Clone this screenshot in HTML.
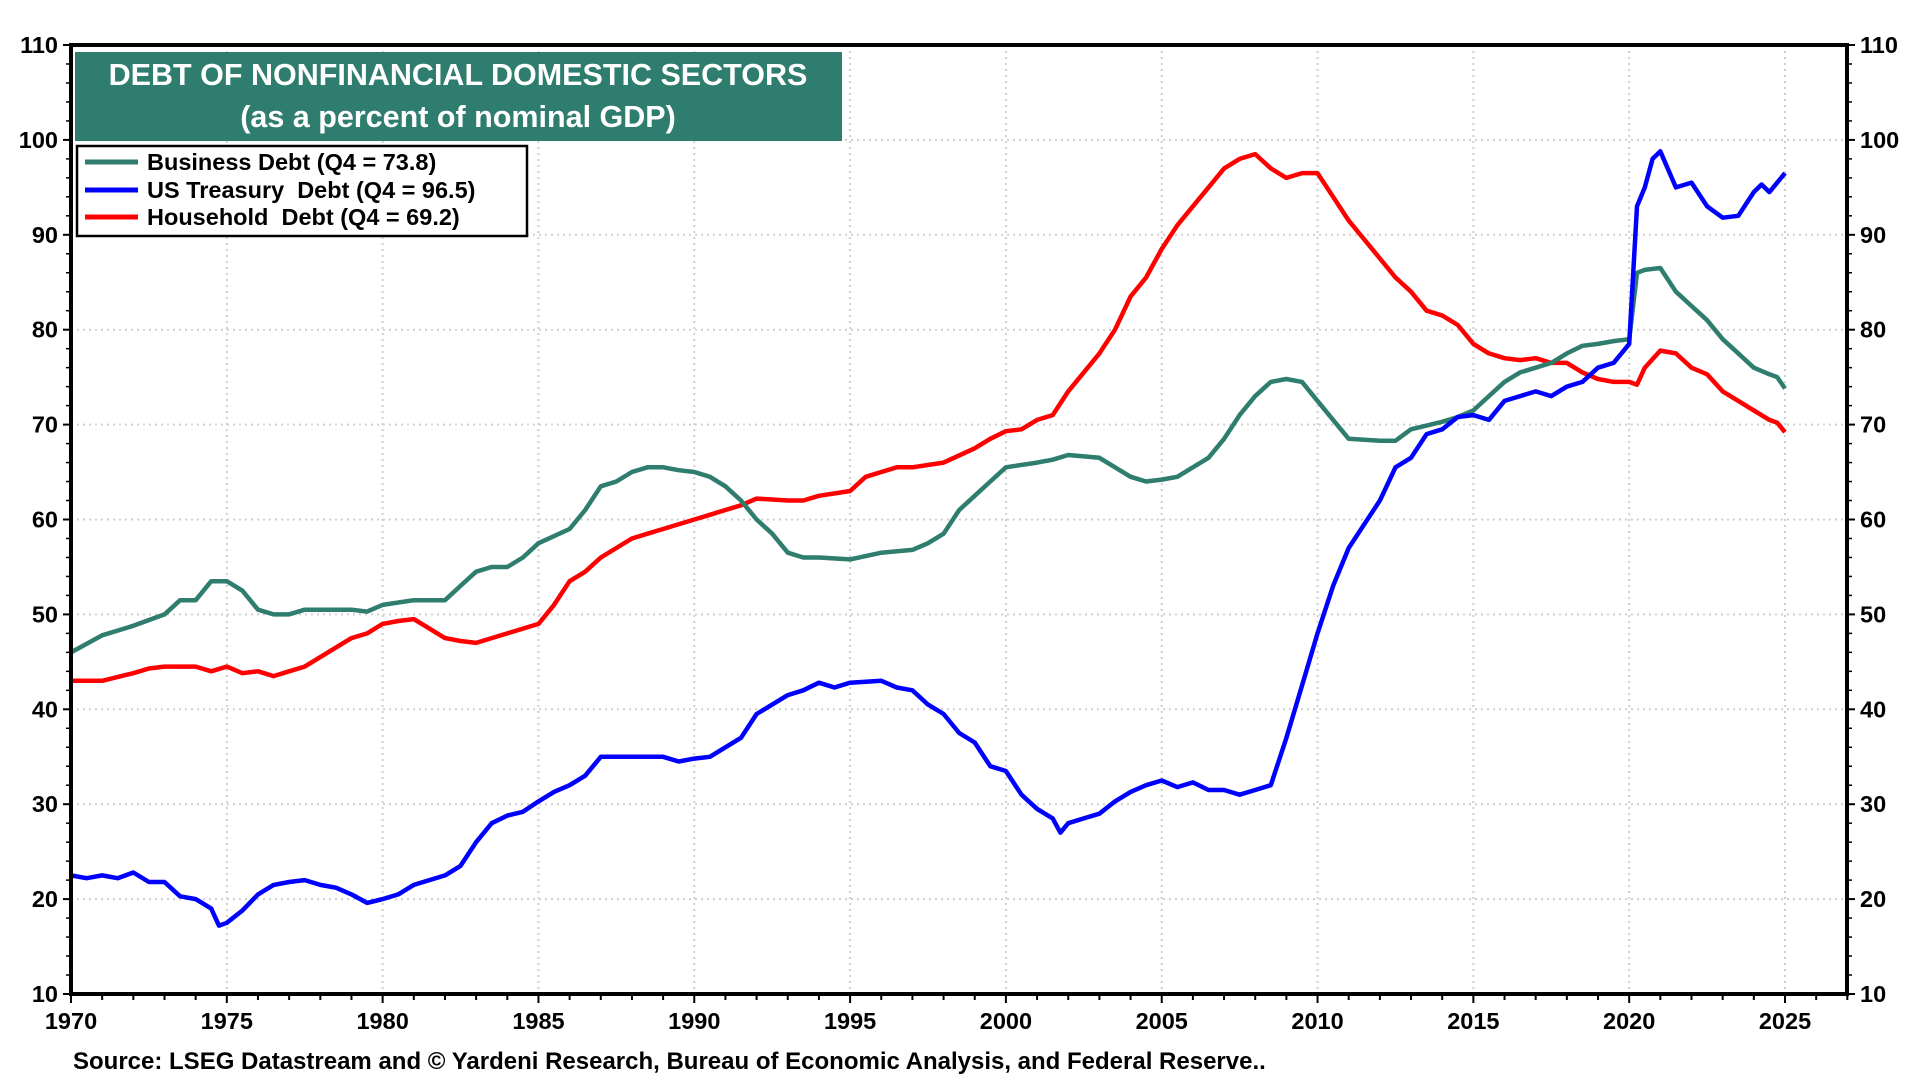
<!DOCTYPE html>
<html><head><meta charset="utf-8">
<style>
html,body{margin:0;padding:0;background:#fff;}
svg{display:block;font-family:"Liberation Sans",Arial,sans-serif;font-weight:bold;}
</style></head>
<body>
<svg id="chart" width="1920" height="1080" viewBox="0 0 1920 1080" xmlns="http://www.w3.org/2000/svg">
<g id="grid"></g>
<g id="series"></g>
<g id="axes"></g>
<g>
<rect x="75" y="52" width="767" height="89" fill="#2e7d6e"/>
<text x="458" y="85" text-anchor="middle" font-size="30.5" fill="#fff">DEBT OF NONFINANCIAL DOMESTIC SECTORS</text>
<text x="458" y="127" text-anchor="middle" font-size="30.5" fill="#fff">(as a percent of nominal GDP)</text>
</g>
<g>
<rect x="77" y="146" width="450" height="90" fill="#fff" stroke="#000" stroke-width="2.5"/>
<g><line x1="85" y1="162" x2="138" y2="162" stroke="#2e7d6e" stroke-width="5"/><text x="147" y="170" font-size="23.5">Business Debt (Q4 = 73.8)</text></g>
<g><line x1="85" y1="190" x2="138" y2="190" stroke="#0000ff" stroke-width="5"/><text x="147" y="198" font-size="23.5" xml:space="preserve">US Treasury  Debt (Q4 = 96.5)</text></g>
<g><line x1="85" y1="217" x2="138" y2="217" stroke="#ff0000" stroke-width="5"/><text x="147" y="225" font-size="23.5" xml:space="preserve">Household  Debt (Q4 = 69.2)</text></g>
</g>
<text x="73" y="1069" font-size="24">Source: LSEG Datastream and © Yardeni Research, Bureau of Economic Analysis, and Federal Reserve..</text>
</svg>
<script>
const yTicks=[10,20,30,40,50,60,70,80,90,100,110];
const xTicks=[1970,1975,1980,1985,1990,1995,2000,2005,2010,2015,2020,2025];
const bizYears=[1970,1971,1972,1973,1973.5,1974,1974.5,1975,1975.5,1976,1976.5,1977,1977.5,1978,1979,1979.5,1980,1981,1982,1982.5,1983,1983.5,1984,1984.5,1985,1986,1986.5,1987,1987.5,1988,1988.5,1989,1989.5,1990,1990.5,1991,1991.5,1992,1992.5,1993,1993.5,1994,1995,1996,1997,1997.5,1998,1998.5,1999,1999.5,2000,2001,2001.5,2002,2003,2003.5,2004,2004.5,2005,2005.5,2006,2006.5,2007,2007.5,2008,2008.5,2009,2009.5,2010,2010.5,2011,2012,2012.5,2013,2014,2014.5,2015,2015.5,2016,2016.5,2017,2017.5,2018,2018.5,2019,2019.5,2020,2020.25,2020.5,2021,2021.5,2022,2022.5,2023,2023.5,2024,2024.5,2024.75,2025];
const bizVals=[46,47.8,48.8,50,51.5,51.5,53.5,53.5,52.5,50.5,50,50,50.5,50.5,50.5,50.3,51,51.5,51.5,53,54.5,55,55,56,57.5,59,61,63.5,64,65,65.5,65.5,65.2,65,64.5,63.5,62,60,58.5,56.5,56,56,55.8,56.5,56.8,57.5,58.5,61,62.5,64,65.5,66,66.3,66.8,66.5,65.5,64.5,64,64.2,64.5,65.5,66.5,68.5,71,73,74.5,74.8,74.5,72.5,70.5,68.5,68.3,68.3,69.5,70.3,70.8,71.5,73,74.5,75.5,76,76.5,77.5,78.3,78.5,78.8,79,86,86.3,86.5,84,82.5,81,79,77.5,76,75.3,75,73.8];
const hhYears=[1970,1971,1972,1972.5,1973,1974,1974.5,1975,1975.5,1976,1976.5,1977,1977.5,1978,1978.5,1979,1979.5,1980,1980.5,1981,1981.5,1982,1982.5,1983,1983.5,1984,1985,1985.5,1986,1986.5,1987,1987.5,1988,1988.5,1989,1990,1990.5,1991,1991.5,1992,1993,1993.5,1994,1995,1995.5,1996,1996.5,1997,1998,1999,1999.5,2000,2000.5,2001,2001.5,2002,2002.5,2003,2003.5,2004,2004.5,2005,2005.5,2006,2006.5,2007,2007.5,2008,2008.5,2009,2009.5,2010,2010.5,2011,2011.5,2012,2012.5,2013,2013.5,2014,2014.5,2015,2015.5,2016,2016.5,2017,2017.5,2018,2018.5,2019,2019.5,2020,2020.25,2020.5,2021,2021.5,2022,2022.5,2023,2023.5,2024,2024.5,2024.75,2025];
const hhVals=[43,43,43.8,44.3,44.5,44.5,44,44.5,43.8,44,43.5,44,44.5,45.5,46.5,47.5,48,49,49.3,49.5,48.5,47.5,47.2,47,47.5,48,49,51,53.5,54.5,56,57,58,58.5,59,60,60.5,61,61.5,62.2,62,62,62.5,63,64.5,65,65.5,65.5,66,67.5,68.5,69.3,69.5,70.5,71,73.5,75.5,77.5,80,83.5,85.5,88.5,91,93,95,97,98,98.5,97,96,96.5,96.5,94,91.5,89.5,87.5,85.5,84,82,81.5,80.5,78.5,77.5,77,76.8,77,76.5,76.5,75.5,74.8,74.5,74.5,74.2,76,77.8,77.5,76,75.3,73.5,72.5,71.5,70.5,70.2,69.2];
const tsyYears=[1970,1970.5,1971,1971.5,1972,1972.5,1973,1973.5,1974,1974.5,1974.75,1975,1975.5,1976,1976.5,1977,1977.5,1978,1978.5,1979,1979.5,1980,1980.5,1981,1981.5,1982,1982.5,1983,1983.5,1984,1984.5,1985,1985.5,1986,1986.5,1987,1988,1989,1989.5,1990,1990.5,1991,1991.5,1992,1992.5,1993,1993.5,1994,1994.5,1995,1996,1996.5,1997,1997.5,1998,1998.5,1999,1999.5,2000,2000.5,2001,2001.5,2001.75,2002,2002.5,2003,2003.5,2004,2004.5,2005,2005.5,2006,2006.5,2007,2007.5,2008,2008.5,2009,2009.5,2010,2010.5,2011,2011.5,2012,2012.5,2013,2013.5,2014,2014.5,2015,2015.5,2016,2016.5,2017,2017.5,2018,2018.5,2019,2019.5,2020,2020.25,2020.5,2020.75,2021,2021.5,2022,2022.5,2023,2023.5,2024,2024.25,2024.5,2025];
const tsyVals=[22.5,22.2,22.5,22.2,22.8,21.8,21.8,20.3,20,19,17.2,17.5,18.8,20.5,21.5,21.8,22,21.5,21.2,20.5,19.6,20,20.5,21.5,22,22.5,23.5,26,28,28.8,29.2,30.3,31.3,32,33,35,35,35,34.5,34.8,35,36,37,39.5,40.5,41.5,42,42.8,42.3,42.8,43,42.3,42,40.5,39.5,37.5,36.5,34,33.5,31,29.5,28.5,27,28,28.5,29,30.3,31.3,32,32.5,31.8,32.3,31.5,31.5,31,31.5,32,37,42.5,48,53,57,59.5,62,65.5,66.5,69,69.5,70.8,71,70.5,72.5,73,73.5,73,74,74.5,76,76.5,78.5,93,95,98,98.8,95,95.5,93,91.8,92,94.5,95.3,94.5,96.5];

const NS='http://www.w3.org/2000/svg';
const L=71,R=1847,T=45,B=994;
function xs(y){return 71+(y-1970)*(1785-71)/55;}
function ys(v){return B-(v-10)*(B-T)/100;}
function mk(tag,attrs,parent){const e=document.createElementNS(NS,tag);for(const k in attrs)e.setAttribute(k,attrs[k]);parent.appendChild(e);return e;}
const grid=document.getElementById('grid'),axes=document.getElementById('axes'),ser=document.getElementById('series');
yTicks.forEach(v=>{
  if(v>10&&v<110){const g=mk('line',{x1:L,x2:R,y1:ys(v),y2:ys(v),stroke:'#cfcfcf','stroke-width':2,'stroke-dasharray':'2 4'},grid);
  
  }
  const t1=mk('text',{x:L-13,y:ys(v)+8,'text-anchor':'end','font-size':23.5},axes);t1.textContent=v;
  
  
  const t2=mk('text',{x:R+13,y:ys(v)+8,'text-anchor':'start','font-size':23.5},axes);t2.textContent=v;
  
  
  mk('line',{x1:L-8,x2:L,y1:ys(v),y2:ys(v),stroke:'#000','stroke-width':2},axes);
  mk('line',{x1:R,x2:R+8,y1:ys(v),y2:ys(v),stroke:'#000','stroke-width':2},axes);
});
for(let v=12;v<110;v+=2){if(v%10){mk('line',{x1:L-5,x2:L,y1:ys(v),y2:ys(v),stroke:'#000','stroke-width':1.5},axes);mk('line',{x1:R,x2:R+5,y1:ys(v),y2:ys(v),stroke:'#000','stroke-width':1.5},axes);}}
xTicks.forEach(y=>{
  if(y>1970){const g=mk('line',{x1:xs(y),x2:xs(y),y1:T,y2:B,stroke:'#cfcfcf','stroke-width':2,'stroke-dasharray':'2 4'},grid);
  
  }
  const t=mk('text',{x:xs(y),y:1029,'text-anchor':'middle','font-size':23.5},axes);t.textContent=y;
  
  
});
for(let y=1970;y<=2027;y++){mk('line',{x1:xs(y),x2:xs(y),y1:B,y2:B+(y%5?6:9),stroke:'#000','stroke-width':2},axes);}
mk('rect',{x:L,y:T,width:R-L,height:B-T,fill:'none',stroke:'#000','stroke-width':4},axes);
function line(xsArr,vals,color,name){
  const d=xsArr.map((y,i)=>(i?'L':'M')+xs(y).toFixed(1)+','+ys(vals[i]).toFixed(1)).join(' ');
  const p=mk('path',{d:d,fill:'none',stroke:color,'stroke-width':4.5,'stroke-linejoin':'round'},ser);
  
  
}
line(hhYears,hhVals,'#ff0000','household-debt-line');
line(bizYears,bizVals,'#2e7d6e','business-debt-line');
line(tsyYears,tsyVals,'#0000ff','treasury-debt-line');
</script>
</body></html>
